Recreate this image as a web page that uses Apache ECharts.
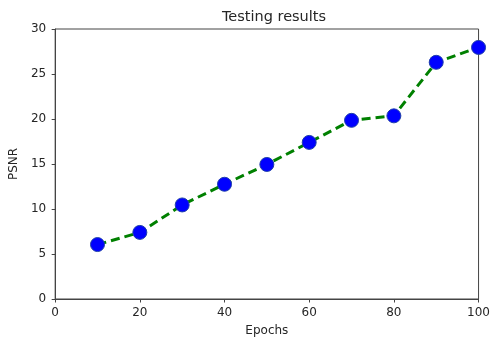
<!DOCTYPE html>
<html><head><meta charset="utf-8">
<script src="https://cdn.jsdelivr.net/npm/echarts@6/dist/echarts.min.js"></script>
<style>html,body{margin:0;padding:0;background:#fff}#c{width:493px;height:342px}</style>
</head><body><div id="c"></div>
<script>
const epochs = [10, 20, 30, 40, 50, 60, 70, 80, 90, 100];
const psnr = [6.05, 7.4, 10.45, 12.75, 14.95, 17.4, 19.85, 20.35, 26.3, 27.95];
const xTicks = [0, 20, 40, 60, 80, 100];
const yTicks = [0, 5, 10, 15, 20, 25, 30];

const font = 'DejaVu Sans';
const chart = echarts.init(document.getElementById('c'), null, {renderer: 'canvas'});
chart.setOption({
  animation: false,
  title: {text: 'Testing results', left: 269, top: 5, textAlign: 'center',
    textStyle: {fontFamily: font, fontSize: 14.5, fontWeight: 'normal', color: '#262626'}},
  grid: {left: 54, right: 8, top: 29, bottom: 40, show: true, borderColor: '#444', borderWidth: 1, backgroundColor: 'transparent'},
  xAxis: {type: 'value', min: 0, max: 100, interval: 20,
    name: 'Epochs', nameLocation: 'middle', nameGap: 26,
    nameTextStyle: {fontFamily: font, fontSize: 12, color: '#262626'},
    axisLine: {show: true, lineStyle: {color: '#444', width: 1}},
    axisTick: {show: true, length: 3.5, lineStyle: {color: '#444'}},
    axisLabel: {fontFamily: font, fontSize: 12, color: '#262626', margin: 8},
    splitLine: {show: false}},
  yAxis: {type: 'value', min: 0, max: 30, interval: 5,
    name: 'PSNR', nameLocation: 'middle', nameGap: 34, nameRotate: 90,
    nameTextStyle: {fontFamily: font, fontSize: 12, color: '#262626'},
    axisLine: {show: true, lineStyle: {color: '#444', width: 1}},
    axisTick: {show: true, length: 3.5, lineStyle: {color: '#444'}},
    axisLabel: {fontFamily: font, fontSize: 12, color: '#262626', margin: 9},
    splitLine: {show: false}},
  series: [{
    type: 'line',
    data: epochs.map((e, i) => [e, psnr[i]]),
    symbol: 'circle', symbolSize: 14,
    lineStyle: {color: '#008000', width: 3, type: [9, 5]},
    itemStyle: {color: '#0000ff', borderColor: '#1f3fa8', borderWidth: 1},
    clip: false, z: 3
  }]
});
</script></body></html>
